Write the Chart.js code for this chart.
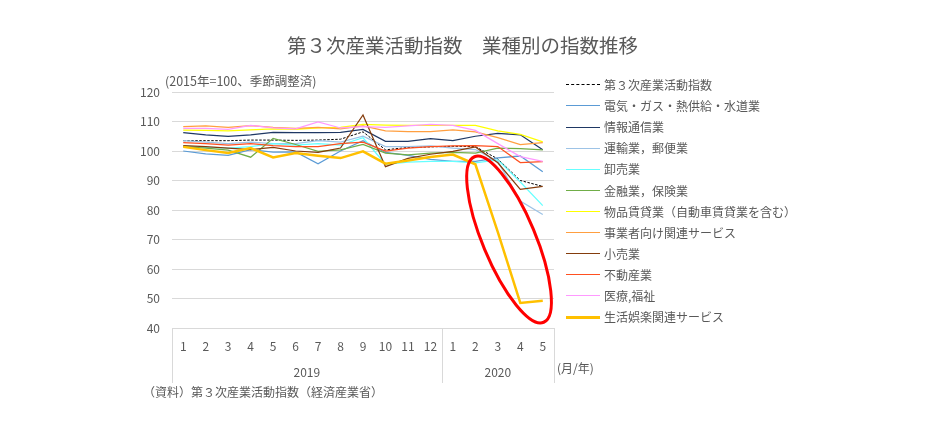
<!DOCTYPE html>
<html><head><meta charset="utf-8">
<script src="https://cdn.jsdelivr.net/npm/chart.js@4.4.0/dist/chart.umd.min.js"></script>
<style>
html,body{margin:0;padding:0;background:#fff;}
#wrap{position:relative;width:931px;height:446px;overflow:hidden;font-family:"Noto Sans CJK JP","Noto Sans",sans-serif;color:#595959;}
#c{position:absolute;left:0;top:0;}
.t{position:absolute;white-space:nowrap;line-height:1;}
.lg{position:absolute;left:566px;height:12px;white-space:nowrap;font-size:12px;line-height:12px;}
.lg .ln{position:absolute;left:0;top:6px;width:34px;height:0;}
.lg .tx{position:absolute;left:38px;top:0;}
</style></head><body>
<div id="wrap">
<canvas id="c" width="931" height="446"></canvas>
<div class="t" style="left:0;width:925px;text-align:center;top:35px;font-size:19.5px;">第３次産業活動指数　業種別の指数推移</div>
<div class="t" style="left:165px;top:75px;font-size:12.5px;">(2015年=100、季節調整済)</div>
<div class="t" style="left:557px;top:362px;font-size:12px;">(月/年)</div>
<div class="t" style="left:143px;top:386px;font-size:12px;">（資料）第３次産業活動指数（経済産業省）</div>
<div id="legend"></div>
<div id="years"></div>
</div>
<script>
// ---- data ----
const months = ['1','2','3','4','5','6','7','8','9','10','11','12','1','2','3','4','5'];
const yearLabels = ['2019','2020'];
const yearMonthCounts = [12, 5];
const yMin = 40, yMax = 120, yStep = 10;

const seriesNames = [
  '第３次産業活動指数',
  '電気・ガス・熱供給・水道業',
  '情報通信業',
  '運輸業，郵便業',
  '卸売業',
  '金融業，保険業',
  '物品賃貸業（自動車賃貸業を含む）',
  '事業者向け関連サービス',
  '小売業',
  '不動産業',
  '医療,福祉',
  '生活娯楽関連サービス'
];
const sTotal    = [103.5,103.5,103.5,103.7,103.7,103.6,103.7,104.0,106.5,100.4,101.2,101.4,101.6,101.5,97.3,90.0,88.0];
const sUtility  = [100.0,99.0,98.5,100.5,99.6,99.7,95.7,100.0,103.5,99.5,98.5,97.2,96.5,96.5,97.7,98.3,93.0];
const sInfo     = [106.2,105.5,105.0,105.5,106.3,106.2,106.2,106.3,107.3,103.3,103.3,104.2,103.5,105.0,106.0,105.5,100.4];
const sTransport= [103.5,103.0,102.5,103.0,102.5,102.5,103.5,103.0,105.0,101.5,101.5,101.7,101.0,100.5,96.5,83.0,78.5];
const sWholesale= [101.7,101.2,101.0,101.5,102.5,102.0,102.5,102.0,104.5,95.5,96.2,96.5,96.5,96.0,97.0,89.5,81.5];
const sFinance  = [101.5,101.0,100.3,97.9,104.3,102.2,99.9,100.4,102.2,99.3,98.7,99.3,99.5,99.3,101.0,100.8,100.4];
const sLeasing  = [107.1,107.0,106.8,107.2,107.5,107.3,107.8,108.0,109.0,108.8,108.7,108.7,108.7,108.7,106.8,105.6,103.1];
const sBusiness = [108.3,108.5,108.0,108.6,108.0,107.7,108.0,107.5,108.5,106.8,106.6,106.6,107.2,106.5,104.5,102.2,102.8];
const sRetail   = [101.8,101.5,101.0,100.5,101.2,100.0,99.5,101.0,112.2,94.7,97.5,98.9,99.9,101.4,96.0,87.0,88.0];
const sRealEst  = [102.8,102.5,102.0,102.5,101.8,101.5,101.5,102.5,103.0,100.0,101.0,101.5,101.7,101.8,101.5,96.1,96.4];
const sMedical  = [107.7,107.7,107.3,108.7,107.8,107.5,109.9,107.8,108.3,108.0,108.5,109.0,108.7,107.0,102.5,98.1,96.5];
const sLeisure  = [101.4,100.3,99.3,101.0,97.8,99.3,98.4,97.6,99.9,95.7,96.8,98.0,98.8,95.5,72.5,48.5,49.2];
const seriesValues = [sTotal,sUtility,sInfo,sTransport,sWholesale,sFinance,sLeasing,sBusiness,sRetail,sRealEst,sMedical,sLeisure];

// ---- styles ----
const colors = ['#000000','#5B9BD5','#1F3864','#9DC3E6','#66FFFF','#70AD47','#FFFF00','#FF9F40','#843C0C','#FF5020','#FF99FF','#FFC000'];
const widths = [1,1.25,1.25,1.25,1.25,1.25,1.25,1.25,1.25,1.25,1.25,2.5];

const datasets = seriesNames.map((n,i)=>({
  label:n, data:seriesValues[i], borderColor:colors[i], backgroundColor:colors[i],
  borderWidth:widths[i], borderDash: i===0?[2.5,1.5]:[], pointRadius:0, tension:0,
  fill:false, order: seriesNames.length - i
}));

// legend (HTML)
const lg = document.getElementById('legend');
seriesNames.forEach((n,i)=>{
  const d=document.createElement('div'); d.className='lg';
  d.style.top=(79+21.1*i)+'px';
  const ln=document.createElement('div'); ln.className='ln';
  const w = i===11?3:1.3;
  ln.style.borderTop = w+'px '+(i===0?'dashed':'solid')+' '+colors[i];
  ln.style.top = (6 - w/2)+'px';
  const tx=document.createElement('div'); tx.className='tx'; tx.textContent=n;
  d.appendChild(ln); d.appendChild(tx); lg.appendChild(d);
});

const groupPlugin = {
  id:'groups',
  afterDraw(chart){
    const x = chart.scales.x, ca = chart.chartArea, ctx = chart.ctx;
    const bounds=[ca.left]; let idx=0;
    yearMonthCounts.forEach((c,k)=>{ idx+=c;
      bounds.push(k===yearMonthCounts.length-1 ? ca.right : (x.getPixelForValue(idx-1)+x.getPixelForValue(idx))/2);
    });
    ctx.save(); ctx.strokeStyle='#D9D9D9'; ctx.lineWidth=1;
    bounds.forEach(b=>{ const bx=Math.round(b)+0.5; ctx.beginPath(); ctx.moveTo(bx,ca.bottom); ctx.lineTo(bx,ca.bottom+55); ctx.stroke(); });
    ctx.restore();
    const yd=document.getElementById('years'); yd.innerHTML='';
    yearLabels.forEach((y,k)=>{
      const e=document.createElement('div'); e.className='t'; e.style.fontSize='12px';
      e.style.left=((bounds[k]+bounds[k+1])/2-40)+'px'; e.style.width='80px'; e.style.textAlign='center';
      e.style.top=(ca.bottom+38)+'px'; e.textContent=y; yd.appendChild(e);
    });
  }
};
const ellipsePlugin = {
  id:'ellipse',
  afterDatasetsDraw(chart){
    const x=chart.scales.x, y=chart.scales.y, ctx=chart.ctx;
    const cx=(x.getPixelForValue(14)+x.getPixelForValue(15))/2, cy=y.getPixelForValue(70);
    ctx.save(); ctx.strokeStyle='#FF0000'; ctx.lineWidth=3;
    ctx.beginPath(); ctx.ellipse(cx,cy,26.4,89.7,-22.7*Math.PI/180,0,Math.PI*2); ctx.stroke();
    ctx.restore();
  }
};

new Chart(document.getElementById('c'),{
  type:'line',
  data:{labels:months, datasets},
  options:{
    responsive:false, animation:false, devicePixelRatio:1,
    layout:{padding:{top:92,right:377,left:0,bottom:0}},
    plugins:{legend:{display:false},tooltip:{enabled:false},title:{display:false}},
    scales:{
      x:{type:'category',offset:true,grid:{display:false,drawTicks:false},border:{display:false},
         ticks:{color:'#595959',font:{family:'"Noto Sans CJK JP"',size:12},padding:11,maxRotation:0,autoSkip:false},
         afterFit(s){s.height=118;}},
      y:{min:yMin,max:yMax,grid:{color:'#D9D9D9',drawTicks:false},border:{display:false},
         ticks:{stepSize:yStep,color:'#595959',font:{family:'"Noto Sans CJK JP"',size:12},padding:12},
         afterFit(s){s.width=172;}}
    }
  },
  plugins:[groupPlugin, ellipsePlugin]
});
</script>
</body></html>
